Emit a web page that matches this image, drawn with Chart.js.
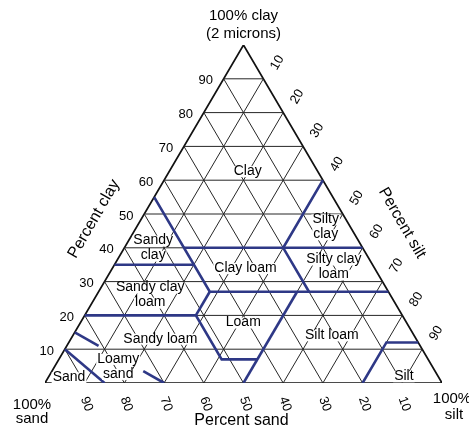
<!DOCTYPE html>
<html>
<head>
<meta charset="utf-8">
<script src="https://cdn.jsdelivr.net/npm/chart.js"></script>
<style>
  body { margin: 0; background: #fff; }
</style>
</head>
<body>
<canvas id="soilChart" width="469" height="430"></canvas>

<script>
    // tick values for the three axes (percent)
    const clayTicks = [10, 20, 30, 40, 50, 60, 70, 80, 90];
    const siltTicks = [10, 20, 30, 40, 50, 60, 70, 80, 90];
    const sandTicks = [90, 80, 70, 60, 50, 40, 30, 20, 10];

    // texture class boundaries, each point is [sand, silt, clay]
    const boundaries = [
        [[45, 0, 55], [45, 28, 27], [0, 73, 27]],
        [[45, 15, 40], [0, 60, 40]],
        [[0, 40, 60], [20, 40, 40], [20, 53, 27]],
        [[65, 0, 35], [45, 20, 35]],
        [[80, 0, 20], [52, 28, 20], [52, 41, 7], [43, 50, 7]],
        [[52, 28, 20], [45, 28, 27]],
        [[50, 50, 0], [23, 50, 27]],
        [[20, 80, 0], [8, 80, 12], [0, 88, 12]],
        [[90, 0, 10], [85, 15, 0]],
        [[85, 0, 15], [81, 8, 11]],
        [[73.5, 23, 3.5], [70, 30, 0]]
    ];

    // texture class names and where they sit, [sand, silt, clay]
    const classNames = ['Clay', 'Silty\nclay', 'Sandy\nclay', 'Clay loam', 'Silty clay\nloam',
        'Sandy clay\nloam', 'Loam', 'Sandy loam', 'Silt loam', 'Loamy\nsand', 'Sand', 'Silt'];
    const classSpots = [[17.6, 19.7, 62.7], [6.2, 47.6, 46.2], [52.8, 7.3, 39.9], [32.5, 33.5, 34],
        [10.1, 55.6, 34.3], [60.5, 13.5, 26], [41.1, 41, 17.9], [64.4, 22.5, 13.1],
        [20.7, 65.2, 14.1], [79.1, 16, 4.9], [93.1, 5.2, 1.7], [8.6, 89.4, 2]];

    const FONT = '"Liberation Sans", Arial, Helvetica, sans-serif';
    const BLUE = '#2e3886';

    // ternary -> cartesian (x along the base, y = clay)
    function toXY(p) {
        return { x: p[1] + p[2] / 2, y: p[2] };
    }

    const datasets = [];

    boundaries.forEach(line => {
        datasets.push({
            data: line.map(toXY),
            showLine: true,
            borderColor: BLUE,
            borderWidth: 2.6,
            pointRadius: 0
        });
    });

    // grid lines
    const gridLines = [];
    clayTicks.forEach(c => gridLines.push([[100 - c, 0, c], [0, 100 - c, c]]));
    siltTicks.forEach(s => gridLines.push([[100 - s, s, 0], [0, s, 100 - s]]));
    sandTicks.forEach(s => gridLines.push([[s, 100 - s, 0], [s, 0, 100 - s]]));
    gridLines.forEach(line => {
        datasets.push({
            data: line.map(toXY),
            showLine: true,
            borderColor: '#262626',
            borderWidth: 1,
            pointRadius: 0
        });
    });

    // outer triangle
    datasets.push({
        data: [[100, 0, 0], [0, 100, 0], [0, 0, 100], [100, 0, 0]].map(toXY),
        showLine: true,
        borderColor: '#111',
        borderWidth: 1.7,
        pointRadius: 0
    });

    const textPlugin = {
        id: 'ternaryText',
        afterDatasetsDraw(chart) {
            const ctx = chart.ctx;
            const xs = chart.scales.x, ys = chart.scales.y;
            const px = p => {
                const q = toXY(p);
                return [xs.getPixelForValue(q.x), ys.getPixelForValue(q.y)];
            };
            ctx.save();
            ctx.fillStyle = '#000';
            ctx.textAlign = 'center';
            ctx.textBaseline = 'middle';

            // class names with white boxes behind them
            ctx.font = '14px ' + FONT;
            classNames.forEach((name, i) => {
                const [cx, cy] = px(classSpots[i]);
                const lines = name.split('\n');
                const lh = 15;
                lines.forEach((t, j) => {
                    const ty = cy + (j - (lines.length - 1) / 2) * lh;
                    const w = ctx.measureText(t).width;
                    ctx.fillStyle = '#fff';
                    ctx.fillRect(cx - w / 2 - 1, ty - 5, w + 2, 11);
                    ctx.fillStyle = '#000';
                    ctx.fillText(t, cx, ty);
                });
            });

            // clay ticks on the left edge
            ctx.font = '13px ' + FONT;
            clayTicks.forEach(c => {
                const [lx, ly] = px([100 - c, 0, c]);
                ctx.fillText(String(c), lx - 18, ly + 2);
            });

            // silt ticks on the right edge
            siltTicks.forEach(s => {
                const [rx, ry] = px([0, s, 100 - s]);
                ctx.save();
                ctx.translate(rx + 14, ry - 16);
                ctx.rotate(-Math.PI / 3);
                ctx.fillText(String(s), 0, 0);
                ctx.restore();
            });

            // sand ticks under the base
            sandTicks.forEach(s => {
                const [bx, by] = px([s, 100 - s, 0]);
                ctx.save();
                ctx.translate(bx + 2, by + 21);
                ctx.rotate(70 * Math.PI / 180);
                ctx.fillText(String(s), 0, 0);
                ctx.restore();
            });

            // axis titles
            ctx.font = '15px ' + FONT;
            const [tx, ty] = px([0, 0, 100]);
            ctx.fillText('100% clay', tx, ty - 29);
            ctx.fillText('(2 microns)', tx, ty - 11);

            const [sx, sy] = px([100, 0, 0]);
            ctx.fillText('100%', sx - 13, sy + 22);
            ctx.fillText('sand', sx - 13, sy + 36);

            const [ex, ey] = px([0, 100, 0]);
            ctx.fillText('100%', ex + 10, ey + 16);
            ctx.fillText('silt', ex + 12, ey + 32);

            ctx.font = '16px ' + FONT;
            ctx.fillText('Percent sand', tx - 2, sy + 38);

            ctx.save();
            ctx.translate(94, 219);
            ctx.rotate(-Math.PI / 3);
            ctx.fillText('Percent clay', 0, 0);
            ctx.restore();

            ctx.save();
            ctx.translate(402, 223);
            ctx.rotate(Math.PI / 3);
            ctx.fillText('Percent silt', 0, 0);
            ctx.restore();

            ctx.restore();
        }
    };

    const ctx = document.getElementById('soilChart').getContext('2d');
    new Chart(ctx, {
        type: 'scatter',
        data: { datasets: datasets },
        options: {
            responsive: false,
            animation: false,
            layout: { padding: { left: 45, right: 27, top: 45, bottom: 47 } },
            plugins: { legend: { display: false }, tooltip: { enabled: false } },
            scales: {
                x: { type: 'linear', min: 0, max: 100, display: false },
                y: { type: 'linear', min: 0, max: 100, display: false }
            }
        },
        plugins: [textPlugin]
    });
</script>
</body>
</html>
